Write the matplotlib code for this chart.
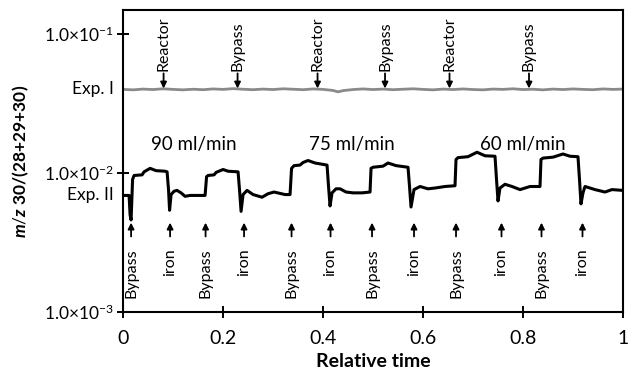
import numpy as np
import matplotlib
matplotlib.use('Agg')
import matplotlib.pyplot as plt

plt.rcParams['font.family'] = ['Lato', 'DejaVu Sans']
plt.rcParams['mathtext.fontset'] = 'custom'
plt.rcParams['mathtext.rm'] = 'Lato'
plt.rcParams['mathtext.it'] = 'Lato:bold:italic'
plt.rcParams['mathtext.bf'] = 'Lato:bold'

# Exp. I: reactor/bypass switching, no change in signal
exp1_t = [0.00, 0.02, 0.04, 0.06, 0.08, 0.10, 0.12, 0.14, 0.16, 0.18, 0.20,
          0.22, 0.24, 0.26, 0.28, 0.30, 0.32, 0.34, 0.36, 0.38, 0.40, 0.42,
          0.43, 0.44, 0.46, 0.48, 0.50, 0.52, 0.54, 0.56, 0.58, 0.60, 0.62,
          0.64, 0.66, 0.68, 0.70, 0.72, 0.74, 0.76, 0.78, 0.80, 0.82, 0.84,
          0.86, 0.88, 0.90, 0.92, 0.94, 0.96, 0.98, 1.00]
exp1_v = [0.0399, 0.0396, 0.0401, 0.0398, 0.0403, 0.0399, 0.0396, 0.0400, 0.0397, 0.0402, 0.0399,
          0.0404, 0.0400, 0.0397, 0.0401, 0.0398, 0.0403, 0.0400, 0.0397, 0.0402, 0.0399, 0.0392,
          0.0383, 0.0391, 0.0398, 0.0402, 0.0398, 0.0401, 0.0397, 0.0400, 0.0403, 0.0399, 0.0396,
          0.0401, 0.0398, 0.0402, 0.0398, 0.0396, 0.0401, 0.0399, 0.0403, 0.0398, 0.0400, 0.0396,
          0.0401, 0.0398, 0.0402, 0.0399, 0.0397, 0.0402, 0.0399, 0.0401]

# Exp. II: bypass / iron switching at 90, 75 and 60 ml/min
exp2_t = [0.000, 0.012, 0.014, 0.016, 0.019, 0.022, 0.038, 0.042, 0.054, 0.066, 0.084,
          0.088, 0.091, 0.093, 0.096, 0.102, 0.108, 0.116, 0.124, 0.134, 0.164,
          0.167, 0.170, 0.182, 0.186, 0.200, 0.210, 0.230,
          0.233, 0.236, 0.240, 0.248, 0.260, 0.278, 0.290, 0.302, 0.324, 0.334,
          0.337, 0.342, 0.354, 0.360, 0.370, 0.384, 0.408,
          0.411, 0.414, 0.418, 0.426, 0.434, 0.446, 0.460, 0.478, 0.494,
          0.496, 0.500, 0.520, 0.530, 0.546, 0.570,
          0.573, 0.576, 0.582, 0.594, 0.610, 0.624, 0.644, 0.664,
          0.666, 0.670, 0.690, 0.708, 0.724, 0.744,
          0.747, 0.750, 0.754, 0.764, 0.778, 0.794, 0.814, 0.834,
          0.836, 0.840, 0.860, 0.880, 0.894, 0.910,
          0.913, 0.916, 0.920, 0.924, 0.934, 0.944, 0.964, 0.978, 1.000]
exp2_v = [0.0069, 0.0069, 0.0050, 0.0046, 0.0090, 0.0096, 0.0097, 0.0102, 0.0108, 0.0104, 0.0103,
          0.0102, 0.0075, 0.0054, 0.0070, 0.0074, 0.0075, 0.0072, 0.0068, 0.0069, 0.0069,
          0.0094, 0.0096, 0.0097, 0.0101, 0.0106, 0.0103, 0.0102,
          0.0075, 0.0053, 0.0070, 0.0075, 0.0070, 0.0067, 0.0071, 0.0073, 0.0070, 0.0070,
          0.0108, 0.0113, 0.0114, 0.0119, 0.0123, 0.0118, 0.0114,
          0.0080, 0.0058, 0.0072, 0.0077, 0.0077, 0.0073, 0.0072, 0.0072, 0.0073,
          0.0108, 0.0110, 0.0112, 0.0118, 0.0113, 0.0110,
          0.0080, 0.0057, 0.0076, 0.0080, 0.0077, 0.0078, 0.0080, 0.0081,
          0.0125, 0.0129, 0.0131, 0.0141, 0.0133, 0.0132,
          0.0090, 0.0063, 0.0078, 0.0083, 0.0080, 0.0076, 0.0080, 0.0080,
          0.0125, 0.0128, 0.0130, 0.0137, 0.0132, 0.0131,
          0.0090, 0.0060, 0.0072, 0.0080, 0.0078, 0.0076, 0.0073, 0.0076, 0.0075]

top_labels = ['Reactor', 'Bypass', 'Reactor', 'Bypass', 'Reactor', 'Bypass']
top_t = [0.081, 0.229, 0.389, 0.524, 0.653, 0.812]

bottom_labels = ['Bypass', 'iron'] * 6
bottom_t = [0.016, 0.094, 0.165, 0.242, 0.337, 0.415,
            0.498, 0.582, 0.666, 0.757, 0.837, 0.919]

flow_labels = ['90 ml/min', '75 ml/min', '60 ml/min']
flow_t = [0.142, 0.458, 0.800]

fig = plt.figure(figsize=(6.28, 3.77), dpi=100)
ax = fig.add_axes([0.196, 0.172, 0.796, 0.801])

ax.plot(exp1_t, exp1_v, color='#8a8a8a', lw=2.0)
ax.plot(exp2_t, exp2_v, color='black', lw=2.2)

ax.set_yscale('log')
ax.set_xlim(0, 1)
ax.set_ylim(1e-3, 0.148)
ax.set_xticks([0, 0.2, 0.4, 0.6, 0.8, 1])
ax.set_xticklabels(['0', '0.2', '0.4', '0.6', '0.8', '1'])
ax.set_yticks([1e-3, 1e-2, 1e-1])
ax.set_yticklabels([r'1.0×10$^{-3}$', r'1.0×10$^{-2}$', r'1.0×10$^{-1}$'])
ax.yaxis.set_minor_locator(matplotlib.ticker.NullLocator())
ax.tick_params(direction='inout', length=9, width=1.4, labelsize=12.5, pad=2)
ax.tick_params(axis='x', labelsize=14, pad=8)
for s in ax.spines.values():
    s.set_linewidth(1.5)

ax.set_xlabel('Relative time', fontsize=14, fontweight='bold', labelpad=5)
ax.set_ylabel(r'$\mathit{m/z}$ 30/(28+29+30)', fontsize=12.5, fontweight='bold', labelpad=9)

# series names beside the axis
ax.text(-0.018, exp1_v[0], 'Exp. I', transform=ax.get_yaxis_transform(),
        ha='right', va='center', fontsize=12.5)
ax.text(-0.018, exp2_v[0], 'Exp. II', transform=ax.get_yaxis_transform(),
        ha='right', va='center', fontsize=12.5)

arrow = dict(arrowstyle='-|>', color='black', lw=1.3, mutation_scale=9, shrinkA=0, shrinkB=0)

for lab, t in zip(top_labels, top_t):
    ax.annotate('', xy=(t, 0.0405), xytext=(t, 0.052), arrowprops=arrow)
    ax.text(t, 0.054, lab, rotation=90, ha='center', va='bottom', fontsize=11.5)

for lab, t in zip(bottom_labels, bottom_t):
    ax.annotate('', xy=(t, 0.0044), xytext=(t, 0.0035), arrowprops=arrow)
    ax.text(t, 0.00285, lab, rotation=90, ha='center', va='top', fontsize=11.5)

for lab, t in zip(flow_labels, flow_t):
    ax.text(t, 0.0161, lab, ha='center', va='center', fontsize=13.5)

fig.savefig('out.png', dpi=100)
